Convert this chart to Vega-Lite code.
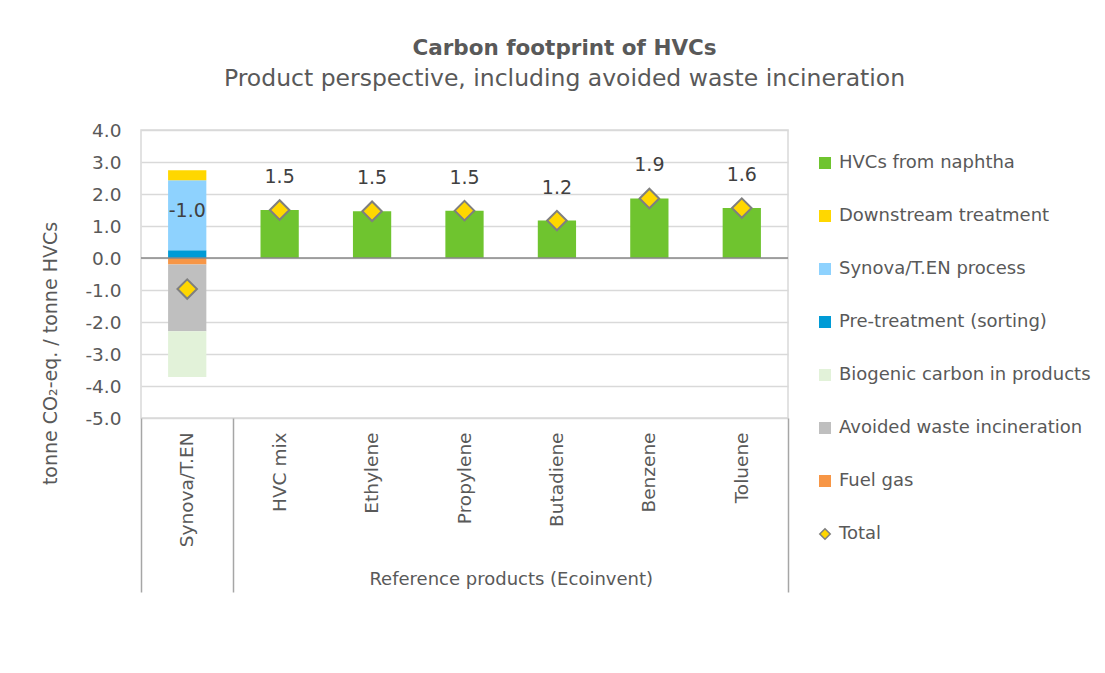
{
  "$schema": "https://vega.github.io/schema/vega-lite/v6.json",
  "width": 647,
  "height": 288,
  "autosize": {"type": "none"},
  "padding": {"left": 141, "top": 130, "right": 317, "bottom": 255},
  "background": "white",
  "config": {
    "font": "DejaVu Sans",
    "locale": {"number": {"decimal": ".", "thousands": ",", "grouping": [3], "currency": ["$", ""], "minus": "-"}},
    "view": {"stroke": "#D9D9D9", "strokeWidth": 1.5},
    "axis": {"labelFont": "DejaVu Sans", "titleFont": "DejaVu Sans", "labelColor": "#595959", "titleColor": "#595959", "labelFontSize": 18, "titleFontSize": 18, "titleFontWeight": "normal"},
    "axisY": {"labelOverlap": false, "labelBound": false, "values": [-5, -4, -3, -2, -1, 0, 1, 2, 3, 4], "format": ".1f", "labelFontSize": 18.5, "grid": true, "gridColor": "#D9D9D9", "gridWidth": 1.5, "domain": false, "ticks": false, "labelPadding": 20, "titleFontSize": 19, "titlePadding": 24, "titleY": 223}
  },
  "title": {
    "text": "Carbon footprint of HVCs",
    "subtitle": "Product perspective, including avoided waste incineration",
    "anchor": "middle",
    "dx": 100,
    "font": "DejaVu Sans",
    "subtitleFont": "DejaVu Sans",
    "fontSize": 21.5,
    "subtitleFontSize": 23.5,
    "fontWeight": "bold",
    "color": "#595959",
    "subtitleColor": "#595959",
    "offset": 31,
    "subtitlePadding": 7
  },
  "datasets": {
    "bars": [
      {"product": "Synova/T.EN", "component": "Pre-treatment (sorting)", "rank": 1, "value": 0.24},
      {"product": "Synova/T.EN", "component": "Synova/T.EN process", "rank": 2, "value": 2.19},
      {"product": "Synova/T.EN", "component": "Downstream treatment", "rank": 3, "value": 0.31},
      {"product": "Synova/T.EN", "component": "Fuel gas", "rank": 4, "value": -0.2},
      {"product": "Synova/T.EN", "component": "Avoided waste incineration", "rank": 5, "value": -2.09},
      {"product": "Synova/T.EN", "component": "Biogenic carbon in products", "rank": 6, "value": -1.43},
      {"product": "HVC mix", "component": "HVCs from naphtha", "rank": 1, "value": 1.5},
      {"product": "Ethylene", "component": "HVCs from naphtha", "rank": 1, "value": 1.46},
      {"product": "Propylene", "component": "HVCs from naphtha", "rank": 1, "value": 1.48},
      {"product": "Butadiene", "component": "HVCs from naphtha", "rank": 1, "value": 1.17},
      {"product": "Benzene", "component": "HVCs from naphtha", "rank": 1, "value": 1.86},
      {"product": "Toluene", "component": "HVCs from naphtha", "rank": 1, "value": 1.56}
    ],
    "totals": [
      {"product": "Synova/T.EN", "total": -0.97},
      {"product": "HVC mix", "total": 1.5},
      {"product": "Ethylene", "total": 1.46},
      {"product": "Propylene", "total": 1.48},
      {"product": "Butadiene", "total": 1.17},
      {"product": "Benzene", "total": 1.86},
      {"product": "Toluene", "total": 1.56}
    ],
    "groups": [{"pos": 0}, {"pos": 7}]
  },
  "layer": [
    {
      "layer": [
        {
          "data": {"name": "bars"},
          "mark": {"type": "bar"},
          "encoding": {
            "x": {
              "field": "product", "type": "nominal",
              "sort": ["Synova/T.EN", "HVC mix", "Ethylene", "Propylene", "Butadiene", "Benzene", "Toluene"],
              "scale": {"paddingInner": 0.586, "paddingOuter": 0.293},
              "axis": {"orient": "bottom", "title": null, "labelAngle": -90, "labelAlign": "right", "labelBaseline": "middle", "ticks": false, "domain": false, "grid": false, "labelPadding": 14, "labelFontSize": 18.5}
            },
            "y": {
              "field": "value", "type": "quantitative", "stack": "zero",
              "scale": {"domain": [-5, 4], "nice": false},
              "axis": {"title": "tonne CO₂-eq. / tonne HVCs", "labelOverlap": false, "values": [-5, -4, -3, -2, -1, 0, 1, 2, 3, 4], "format": ".1f"}
            },
            "order": {"field": "rank", "type": "quantitative"},
            "color": {
              "field": "component", "type": "nominal",
              "scale": {
                "domain": ["HVCs from naphtha", "Downstream treatment", "Synova/T.EN process", "Pre-treatment (sorting)", "Biogenic carbon in products", "Avoided waste incineration", "Fuel gas", "Total"],
                "range": ["#6FC42F", "#FFD700", "#8ED2FE", "#009BD6", "#E2F2D9", "#BFBFBF", "#F79646", "#FFD700"]
              },
              "legend": {
                "orient": "none", "legendX": 675, "legendY": 24, "title": null, "padding": 0,
                "labelFont": "DejaVu Sans", "labelFontSize": 18, "labelColor": "#595959", "labelLimit": 320, "labelOffset": 5,
                "symbolType": "square", "symbolSize": 144, "symbolStrokeWidth": 0, "rowPadding": 35,
                "encode": {
                  "symbols": {
                    "update": {
                      "shape": {"signal": "datum.value === 'Total' ? 'diamond' : 'square'"},
                      "stroke": {"signal": "datum.value === 'Total' ? '#7F7F7F' : 'transparent'"},
                      "strokeWidth": {"signal": "datum.value === 'Total' ? 1.5 : 0"},
                      "size": {"signal": "datum.value === 'Total' ? 110 : 144"}
                    }
                  }
                }
              }
            }
          }
        },
        {
          "data": {"values": [{}]},
          "mark": {"type": "rule", "color": "#898989", "strokeWidth": 1.5},
          "encoding": {"y": {"datum": 0, "type": "quantitative", "axis": {"title": "tonne CO₂-eq. / tonne HVCs", "labelOverlap": false, "values": [-5, -4, -3, -2, -1, 0, 1, 2, 3, 4], "format": ".1f"}}}
        },
        {
          "data": {"name": "totals"},
          "mark": {"type": "point", "shape": "diamond", "filled": true, "fill": "#FFD700", "stroke": "#7F7F7F", "strokeWidth": 2, "size": 380, "opacity": 1},
          "encoding": {
            "x": {"field": "product", "type": "nominal", "sort": ["Synova/T.EN", "HVC mix", "Ethylene", "Propylene", "Butadiene", "Benzene", "Toluene"]},
            "y": {"field": "total", "type": "quantitative", "axis": {"title": "tonne CO₂-eq. / tonne HVCs", "labelOverlap": false, "values": [-5, -4, -3, -2, -1, 0, 1, 2, 3, 4], "format": ".1f"}}
          }
        },
        {
          "data": {"name": "totals"},
          "transform": [{"filter": "datum.product !== 'Synova/T.EN'"}],
          "mark": {"type": "text", "dy": -33, "fontSize": 19, "color": "#404040", "font": "DejaVu Sans"},
          "encoding": {
            "x": {"field": "product", "type": "nominal", "sort": ["Synova/T.EN", "HVC mix", "Ethylene", "Propylene", "Butadiene", "Benzene", "Toluene"]},
            "y": {"field": "total", "type": "quantitative", "axis": {"title": "tonne CO₂-eq. / tonne HVCs", "labelOverlap": false, "values": [-5, -4, -3, -2, -1, 0, 1, 2, 3, 4], "format": ".1f"}},
            "text": {"field": "total", "type": "quantitative", "format": ".1f"}
          }
        },
        {
          "data": {"name": "totals"},
          "transform": [{"filter": "datum.product === 'Synova/T.EN'"}],
          "mark": {"type": "text", "dy": -78, "fontSize": 19, "color": "#404040", "font": "DejaVu Sans"},
          "encoding": {
            "x": {"field": "product", "type": "nominal", "sort": ["Synova/T.EN", "HVC mix", "Ethylene", "Propylene", "Butadiene", "Benzene", "Toluene"]},
            "y": {"field": "total", "type": "quantitative", "axis": {"title": "tonne CO₂-eq. / tonne HVCs", "labelOverlap": false, "values": [-5, -4, -3, -2, -1, 0, 1, 2, 3, 4], "format": ".1f"}},
            "text": {"field": "total", "type": "quantitative", "format": ".1f"}
          }
        }
      ]
    },
    {
      "data": {"name": "groups"},
      "mark": {"type": "point", "opacity": 0},
      "encoding": {
        "x": {
          "field": "pos", "type": "quantitative",
          "scale": {"domain": [0, 7], "nice": false, "zero": false},
          "axis": {"orient": "bottom", "values": [0, 1, 7], "labels": false, "domain": false, "grid": false, "ticks": true, "tickSize": 174, "tickColor": "#A6A6A6", "tickWidth": 1.5, "title": null}
        }
      }
    },
    {
      "data": {"name": "groups"},
      "mark": {"type": "point", "opacity": 0},
      "encoding": {
        "x": {
          "field": "pos", "type": "quantitative",
          "scale": {"domain": [0, 7], "nice": false, "zero": false},
          "axis": {"orient": "bottom", "values": [4], "labelExpr": "'Reference products (Ecoinvent)'", "labelLimit": 500, "labelOverlap": false, "ticks": false, "domain": false, "grid": false, "labelPadding": 152, "labelFontSize": 18, "labelColor": "#595959", "title": null}
        }
      }
    }
  ],
  "resolve": {"scale": {"x": "independent"}}
}
